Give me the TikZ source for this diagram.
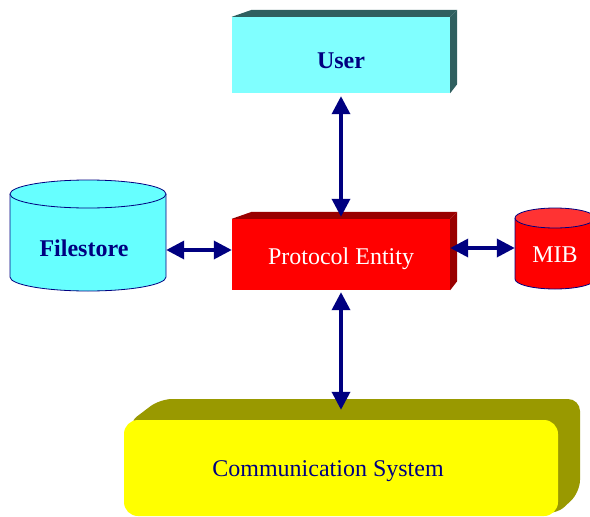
\documentclass[tikz,border=0pt]{standalone}
\usepackage{fontspec}
\setmainfont{Liberation Serif}
\usetikzlibrary{arrows.meta}
\definecolor{navytext}{HTML}{000080}
\definecolor{usercyan}{HTML}{80FFFF}
\definecolor{userdark}{HTML}{2F5F5F}
\definecolor{fscyan}{HTML}{66FFFF}
\definecolor{pered}{HTML}{FF0000}
\definecolor{pedark}{HTML}{990000}
\definecolor{mibtop}{HTML}{FF3333}
\definecolor{csyellow}{HTML}{FFFF00}
\definecolor{csdark}{HTML}{999900}
\tikzset{
  bigtext/.style={font=\fontsize{24}{28}\selectfont, inner sep=0pt},
  bigbold/.style={font=\fontsize{24}{28}\selectfont\bfseries, inner sep=0pt},
  box3d/.style={minimum width=218pt},
  cylline/.style={draw=navytext, line width=0.8pt},
  dblarrow/.style={draw=navytext, line width=3.5pt,
    {Triangle[length=18pt,width=18pt]}-{Triangle[length=18pt,width=18pt]}},
}
\begin{document}
\begin{tikzpicture}[x=1pt,y=-1pt]
    \useasboundingbox (0,0) rectangle (590,517);
    % boxes with a top and a side face
    \node[bigbold, box3d, fill=usercyan, text=navytext, minimum height=76pt, text height=27pt, text depth=0pt] (usr) at (341,55) {User};
    \node[bigtext, box3d, fill=pered, text=white, minimum height=71pt, text height=25pt, text depth=5pt] (pe) at (341,254.5) {Protocol Entity};
    \foreach \b/\c in {usr/userdark, pe/pedark} {
        \fill[\c] (\b.north west) -- ++(20,-7) -- ([shift={(7,-7)}]\b.north east) -- (\b.north east) -- cycle;
        \fill[\c] (\b.north east) -- ++(7,-7) -- ([shift={(7,-9)}]\b.south east) -- (\b.south east) -- cycle;
      }
    % stores
    \draw[cylline, fill=fscyan] (10,194) -- (10,277) arc[start angle=180, end angle=0, x radius=78, y radius=14] -- (166,194);
    \draw[cylline, fill=fscyan] (88,194) ellipse [x radius=78, y radius=14];
    \node[bigbold, text=navytext, minimum width=156pt] (fs) at (88,248) {Filestore\hspace*{8pt}};
    \draw[cylline, fill=pered] (515,218) -- (515,279) arc[start angle=180, end angle=0, x radius=40, y radius=10] -- (595,218);
    \draw[cylline, fill=mibtop] (555,218) ellipse [x radius=40, y radius=10];
    \node[bigtext, text=white, minimum width=80pt] (mib) at (555,255) {MIB};
    % communication system
    \fill[csdark, rounded corners=12pt] (127,424) -- (160,399) -- (580,399) -- (580,492) -- (556,515) -- cycle;
    \node[bigtext, fill=csyellow, text=navytext, rounded corners=14pt, minimum width=434pt, minimum height=96pt, text height=22pt, text depth=6pt] (cs) at (341,468) {Communication System\hspace*{26pt}};
    % arrows
    \coordinate (fsa) at ([yshift=-2pt]fs.east);
    \coordinate (miba) at ([yshift=7pt]mib.west);
    \draw[dblarrow] (fsa) -- (fsa -| pe.west);
    \draw[dblarrow] (miba) -- (miba -| pe.east);
    \draw[dblarrow, shorten <=3pt, shorten >=2pt] (usr.south) -- (pe.north);
    \draw[dblarrow, shorten <=2pt, shorten >=10pt] (pe.south) -- (pe.south |- cs.north);
  \end{tikzpicture}
\end{document}
